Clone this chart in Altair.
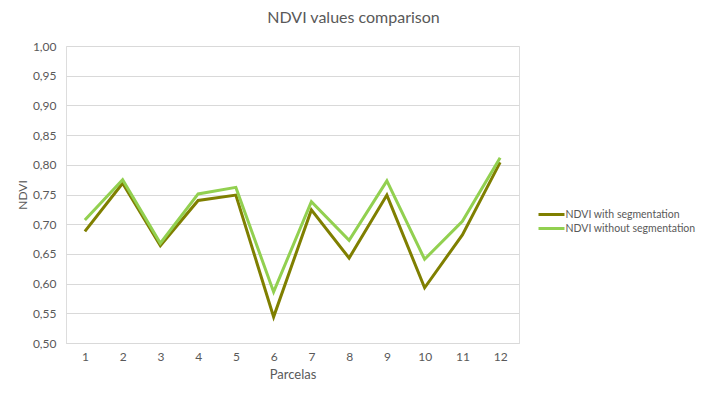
import altair as alt
import pandas as pd

parcelas = [1, 2, 3, 4, 5, 6, 7, 8, 9, 10, 11, 12]
with_seg = [0.688, 0.769, 0.664, 0.740, 0.749, 0.544, 0.724, 0.643, 0.749, 0.593, 0.682, 0.804]
without_seg = [0.707, 0.775, 0.668, 0.751, 0.762, 0.586, 0.738, 0.673, 0.773, 0.641, 0.705, 0.812]
series_names = ["NDVI with segmentation", "NDVI without segmentation"]
series_colors = ["#7F7F00", "#92D050"]
y_ticks = [0.50, 0.55, 0.60, 0.65, 0.70, 0.75, 0.80, 0.85, 0.90, 0.95, 1.00]

rows = []
for i, p in enumerate(parcelas):
    rows.append({"Parcelas": str(p), "NDVI": with_seg[i], "Serie": series_names[0], "o": 0})
    rows.append({"Parcelas": str(p), "NDVI": without_seg[i], "Serie": series_names[1], "o": 1})
df = pd.DataFrame(rows)

FONT = "Lato"
GRAY = "#595959"

chart = alt.Chart(df).mark_line(strokeWidth=3, strokeCap="butt", strokeJoin="miter").encode(
    x=alt.X("Parcelas:N", sort=[str(p) for p in parcelas],
            scale=alt.Scale(padding=0.5),
            axis=alt.Axis(title="Parcelas", labelAngle=0, ticks=False, domain=True,
                          domainColor="#d9d9d9", domainWidth=1, labelPadding=8,
                          titlePadding=6, labelFontSize=12, titleFontSize=13,
                          labelColor=GRAY, titleColor=GRAY, titleFontWeight="normal",
                          labelFont=FONT, titleFont=FONT)),
    y=alt.Y("NDVI:Q", scale=alt.Scale(domain=[0.5, 1.0], nice=False, zero=False),
            axis=alt.Axis(title="NDVI", values=y_ticks, ticks=False, domain=False,
                          labelExpr="replace(format(datum.value, '.2f'), '.', ',')",
                          gridColor="#d9d9d9", gridWidth=1, labelPadding=10,
                          titlePadding=3, labelFontSize=12, titleFontSize=12,
                          labelColor=GRAY, titleColor=GRAY, titleFontWeight="normal",
                          labelFont=FONT, titleFont=FONT)),
    color=alt.Color("Serie:N", scale=alt.Scale(domain=series_names, range=series_colors),
                    legend=alt.Legend(title=None, orient="none", legendX=477.5, legendY=160.5,
                                      symbolType="M-2,0H2", symbolStrokeWidth=3, symbolSize=169,
                                      symbolFillColor="transparent",
                                      labelFontSize=10.5, labelColor=GRAY, labelFont=FONT,
                                      rowPadding=0, labelOffset=6, labelLimit=300)),
    order=alt.Order("o:Q"),
).properties(
    width=453, height=297,
    title=alt.TitleParams("NDVI values comparison", fontSize=16, color=GRAY, font=FONT,
                          fontWeight="normal", anchor="middle", dx=61, offset=14),
    autosize=alt.AutoSizeParams(type="none"),
    padding={"left": 58, "top": 38, "right": 180, "bottom": 49},
).configure_view(stroke=None).configure(background="white")

chart.save("out.html", embed_options={"renderer": "svg", "actions": False})
